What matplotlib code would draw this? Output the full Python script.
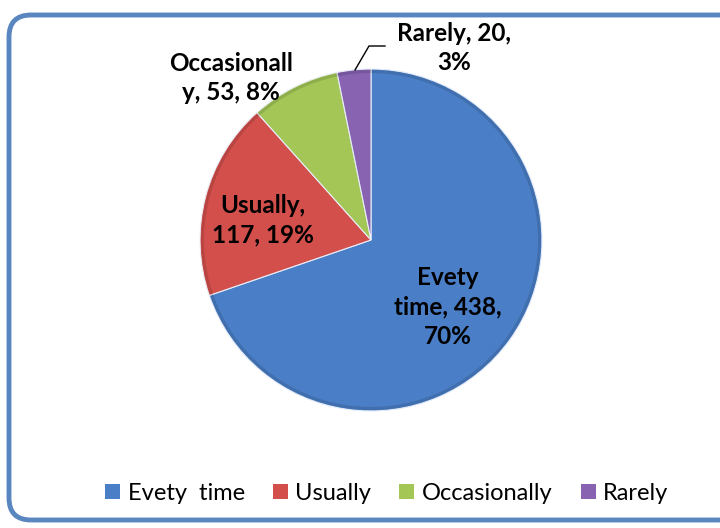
import matplotlib.pyplot as plt
from matplotlib.patches import FancyBboxPatch, Patch

# data
categories = ["Evety  time", "Usually", "Occasionally", "Rarely"]
counts = [438, 117, 53, 20]
percents = [70, 19, 8, 3]
colors = ["#4A7EC6", "#D24F4B", "#A4C657", "#8763B2"]

plt.rcParams['font.family'] = ['Lato', 'DejaVu Sans']

fig = plt.figure(figsize=(7.2, 5.28), dpi=100)
ax = fig.add_axes([0, 0, 1, 1])

# rounded chart border
border = FancyBboxPatch((9, 8), 740, 505, boxstyle="round,pad=0,rounding_size=22",
                        fill=False, edgecolor="#5A86C0", linewidth=3.5, zorder=1)
ax.add_patch(border)

wedges, _ = ax.pie(counts, colors=colors, startangle=90, counterclock=False,
                   center=(371, 288), radius=171, frame=True,
                   wedgeprops=dict(edgecolor="#e8eef8", linewidth=0.8))
# darker rim to mimic the bevel
ax.pie(counts, colors=["none"] * 4, startangle=90, counterclock=False,
       center=(371, 288), radius=170, frame=True,
       wedgeprops=dict(width=3, edgecolor="none", facecolor=(0, 0, 0, 0.12)))
ax.set_xlim(0, 720)
ax.set_ylim(0, 528)
ax.set_aspect("equal")
ax.axis("off")

font = dict(fontsize=17.5, fontweight="bold", ha="center", va="center",
            color="black", linespacing=1.35)
ax.text(448, 528 - 307, "Evety\ntime, %d,\n%d%%" % (counts[0], percents[0]), **font)
ax.text(263, 528 - 220, "Usually,\n%d, %d%%" % (counts[1], percents[1]), **font)
ax.text(231, 528 - 78, "Occasionall\ny, %d, %d%%" % (counts[2], percents[2]), **font)
ax.text(454, 528 - 48, "Rarely, %d,\n%d%%" % (counts[3], percents[3]), **font)

# leader line for Rarely
ax.plot([355, 369, 385], [528 - 70, 528 - 46, 528 - 46], color="black", linewidth=1)

handles = [Patch(facecolor=c, edgecolor="none") for c in colors]
fig.legend(handles, categories, loc="center", bbox_to_anchor=(0.537, 0.066),
           ncol=4, frameon=False, fontsize=17, handlelength=0.64, handleheight=0.64,
           handletextpad=0.3, columnspacing=1.2)

fig.savefig("out.png", dpi=100)
